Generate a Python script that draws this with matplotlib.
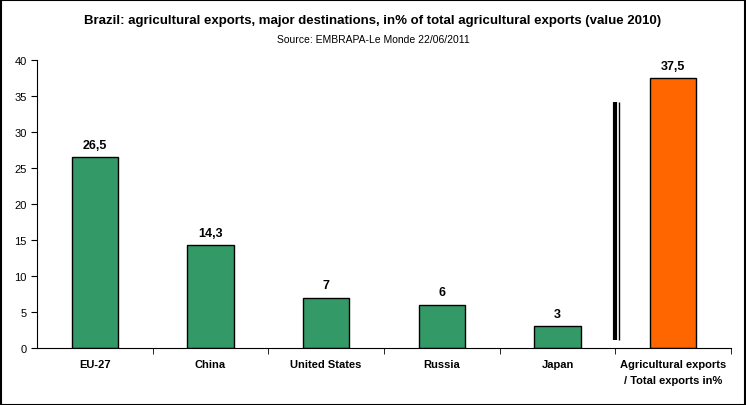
import matplotlib
matplotlib.use("Agg")
import matplotlib.pyplot as plt
from matplotlib.patches import Rectangle

categories = ["EU-27", "China", "United States", "Russia", "Japan",
              "Agricultural exports\n/ Total exports in%"]
values = [26.5, 14.3, 7, 6, 3, 37.5]
labels = ["26,5", "14,3", "7", "6", "3", "37,5"]
colors = ["#339966"] * 5 + ["#FF6600"]
yticks = [0, 5, 10, 15, 20, 25, 30, 35, 40]

plt.rcParams['font.family'] = ['Liberation Sans', 'DejaVu Sans']

fig = plt.figure(figsize=(7.46, 4.06), dpi=100)
ax = fig.add_axes([37/746, (406-349)/406, (731-37)/746, (349-61)/406])

x = list(range(len(categories)))
ax.bar(x, values, width=0.4, color=colors, edgecolor="black", linewidth=1)
for xi, v, lab in zip(x, values, labels):
    ax.text(xi, v + 0.9, lab, ha="center", va="bottom", fontsize=9,
            fontweight="bold")

ax.set_xlim(-0.5, len(categories) - 0.5)
ax.set_ylim(0, 40)
ax.set_yticks(yticks)
ax.set_yticklabels([str(t) for t in yticks], fontsize=8)
ax.set_xticks(x)
ax.set_xticklabels(categories, fontsize=8, fontweight="bold", va="top",
                   linespacing=1.7)
ax.tick_params(axis="x", length=0, pad=8)
ax.set_xticks([i + 0.5 for i in range(len(categories))], minor=True)
ax.tick_params(axis="x", which="minor", length=4, direction="out")
ax.tick_params(axis="y", length=4, direction="out")
for s in ["top", "right"]:
    ax.spines[s].set_visible(False)

# separator double line
ax.plot([4.495, 4.495], [1.1, 34.2], color="black", linewidth=3, solid_capstyle="butt")
ax.plot([4.528, 4.528], [1.1, 34.2], color="black", linewidth=1, solid_capstyle="butt")

fig.text(0.5, 1 - 21/406, "Brazil: agricultural exports, major destinations, in% of total agricultural exports (value 2010)",
         ha="center", va="center", fontsize=9.5, fontweight="bold")
fig.text(0.5, 1 - 40/406, "Source: EMBRAPA-Le Monde 22/06/2011",
         ha="center", va="center", fontsize=7.5)

fig.patches.append(Rectangle((0.5/746, 0.5/406), 1 - 1.5/746, 1 - 1.5/406,
                             transform=fig.transFigure, fill=False,
                             edgecolor="black", linewidth=1.5))

fig.savefig("out.png", dpi=100)
